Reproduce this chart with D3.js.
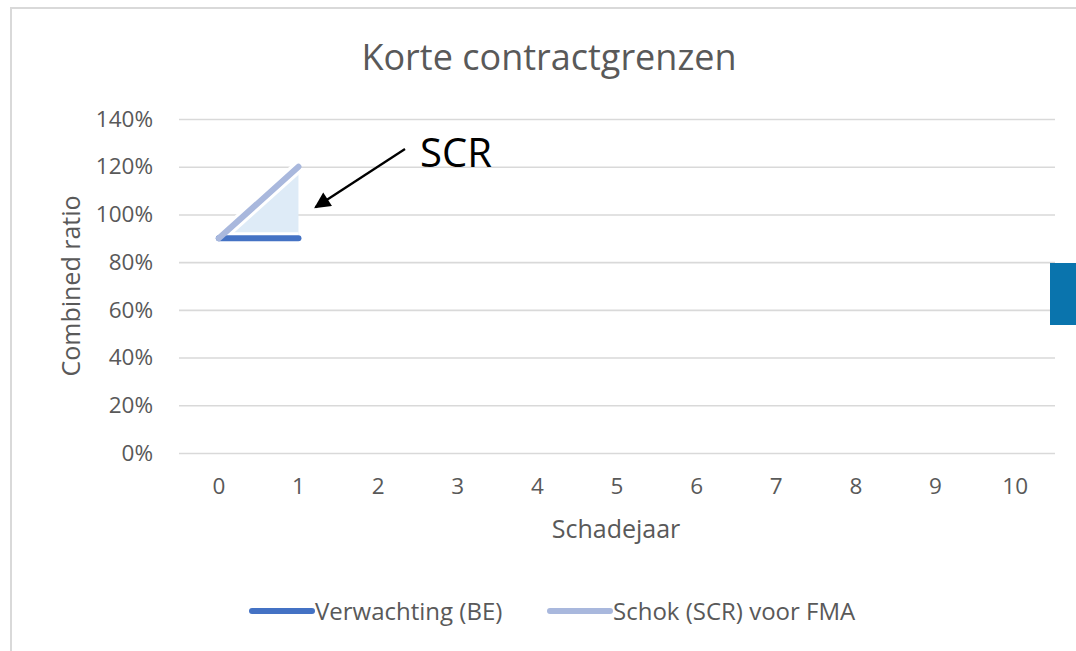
<!DOCTYPE html>
<html>
<head>
<meta charset="utf-8">
<script src="https://cdn.jsdelivr.net/npm/d3@7"></script>
<style>
  html, body { margin: 0; padding: 0; background: #fff; }
  svg { display: block; font-family: "Open Sans", "Noto Sans", sans-serif; }
</style>
</head>
<body>
<div id="chart"></div>
<script>
// chart data
var years = ["0", "1", "2", "3", "4", "5", "6", "7", "8", "9", "10"];
var yTicks = [0, 0.2, 0.4, 0.6, 0.8, 1.0, 1.2, 1.4];
var lineYears = ["0", "1"];
var beValues = [0.90, 0.90];    // Verwachting (BE)
var scrValues = [0.90, 1.20];   // Schok (SCR) voor FMA
var seriesNames = ["Verwachting (BE)", "Schok (SCR) voor FMA"];

var W = 1076, H = 651;
var textColor = "#595959";
var beColor = "#4472C4";
var scrColor = "#A9B8DD";

var svg = d3.select("#chart").append("svg")
    .attr("width", W)
    .attr("height", H);

    // chart frame
svg.append("rect")
    .attr("x", 11).attr("y", 8)
    .attr("width", W + 20).attr("height", H + 20)
    .attr("fill", "#fff")
    .attr("stroke", "#D9D9D9")
    .attr("stroke-width", 2);

var x = d3.scaleBand().domain(years).range([179, 1055]).padding(0);
var y = d3.scaleLinear().domain([0, 1.4]).range([453, 119]);
var cx = function (d) { return x(d) + x.bandwidth() / 2; };

    // gridlines via the y axis
svg.append("g")
    .attr("transform", "translate(179,0)")
    .call(d3.axisRight(y).tickValues(yTicks).tickSize(1055 - 179).tickFormat(""))
    .call(function (g) {
        g.select(".domain").remove();
        g.selectAll("line").attr("stroke", "#D9D9D9").attr("stroke-width", 1.6);
    });

    // y tick labels
svg.append("g")
    .attr("transform", "translate(153,0)")
    .call(d3.axisLeft(y).tickValues(yTicks).tickSize(0).tickPadding(0)
        .tickFormat(function (d) { return Math.round(d * 100) + "%"; }))
    .call(function (g) {
        g.select(".domain").remove();
        g.selectAll("text")
            .attr("fill", textColor)
            .style("font-size", "22.5px")
            .style("font-family", "'Open Sans', sans-serif");
    });

    // x tick labels
svg.append("g")
    .attr("transform", "translate(0,478)")
    .call(d3.axisBottom(x).tickSize(0).tickPadding(0))
    .call(function (g) {
        g.select(".domain").remove();
        g.selectAll("text")
            .attr("fill", textColor)
            .attr("dy", "0.72em")
            .style("font-size", "22.5px")
            .style("font-family", "'Open Sans', sans-serif");
    });

    // title and axis titles
svg.append("text")
    .attr("x", 549).attr("y", 70)
    .attr("text-anchor", "middle")
    .attr("fill", textColor)
    .style("font-size", "36px")
    .text("Korte contractgrenzen");

svg.append("text")
    .attr("x", 616).attr("y", 538)
    .attr("text-anchor", "middle")
    .attr("fill", textColor)
    .style("font-size", "25px")
    .text("Schadejaar");

svg.append("text")
    .attr("transform", "translate(80,286) rotate(-90)")
    .attr("text-anchor", "middle")
    .attr("fill", textColor)
    .style("font-size", "25px")
    .text("Combined ratio");

    // shaded SCR band between BE and shock
var pts = lineYears.map(function (d, i) {
    return { yr: d, be: beValues[i], scr: scrValues[i] };
});

svg.append("path")
    .datum(pts)
    .attr("fill", "#DEEBF7")
    .attr("d", d3.area()
        .x(function (d) { return cx(d.yr); })
        .y0(function (d) { return y(d.be); })
        .y1(function (d) { return y(d.scr); }));

var line = d3.line()
    .x(function (d) { return cx(d.yr); })
    .y(function (d) { return y(d.v); });

var beData = lineYears.map(function (d, i) { return { yr: d, v: beValues[i] }; });
var scrData = lineYears.map(function (d, i) { return { yr: d, v: scrValues[i] }; });

    // white halo so the fill stops short of the lines
[beData, scrData].forEach(function (data) {
    svg.append("path")
        .datum(data)
        .attr("fill", "none")
        .attr("stroke", "#fff")
        .attr("stroke-width", 12)
        .attr("d", line);
});

svg.append("path")
    .datum(beData)
    .attr("fill", "none")
    .attr("stroke", beColor)
    .attr("stroke-width", 6)
    .attr("stroke-linecap", "round")
    .attr("d", line);

svg.append("path")
    .datum(scrData)
    .attr("fill", "none")
    .attr("stroke", scrColor)
    .attr("stroke-width", 6)
    .attr("stroke-linecap", "round")
    .attr("d", line);

    // SCR annotation with arrow
var defs = svg.append("defs");
defs.append("marker")
    .attr("id", "arrowhead")
    .attr("viewBox", "0 0 10 10")
    .attr("refX", 9).attr("refY", 5)
    .attr("markerWidth", 8.5).attr("markerHeight", 7)
    .attr("markerUnits", "strokeWidth")
    .attr("orient", "auto")
    .append("path")
    .attr("d", "M0,0 L10,5 L0,10 z")
    .attr("fill", "#000");

var tipX = cx("1") + 17, tipY = y(1.03);
svg.append("line")
    .attr("x1", 405).attr("y1", 149)
    .attr("x2", tipX).attr("y2", tipY)
    .attr("stroke", "#000")
    .attr("stroke-width", 2.3)
    .attr("marker-end", "url(#arrowhead)");

svg.append("text")
    .attr("x", 420).attr("y", 167)
    .attr("fill", "#000")
    .style("font-size", "40px")
    .text("SCR");

    // legend
var legend = svg.append("g").attr("transform", "translate(0,611)");
var legendItems = [
    { name: seriesNames[0], color: beColor, x0: 252 },
    { name: seriesNames[1], color: scrColor, x0: 550 }
];
legendItems.forEach(function (it) {
    legend.append("line")
        .attr("x1", it.x0).attr("x2", it.x0 + 60)
        .attr("y1", 0).attr("y2", 0)
        .attr("stroke", it.color)
        .attr("stroke-width", 6)
        .attr("stroke-linecap", "round");
    legend.append("text")
        .attr("x", it.x0 + 63).attr("y", 0)
        .attr("dy", "0.36em")
        .attr("fill", textColor)
        .style("font-size", "24px")
        .text(it.name);
});

    // blue block at the right edge
svg.append("rect")
    .attr("x", 1050).attr("y", 263)
    .attr("width", 26).attr("height", 62)
    .attr("fill", "#0A74AD");
</script>
</body>
</html>
